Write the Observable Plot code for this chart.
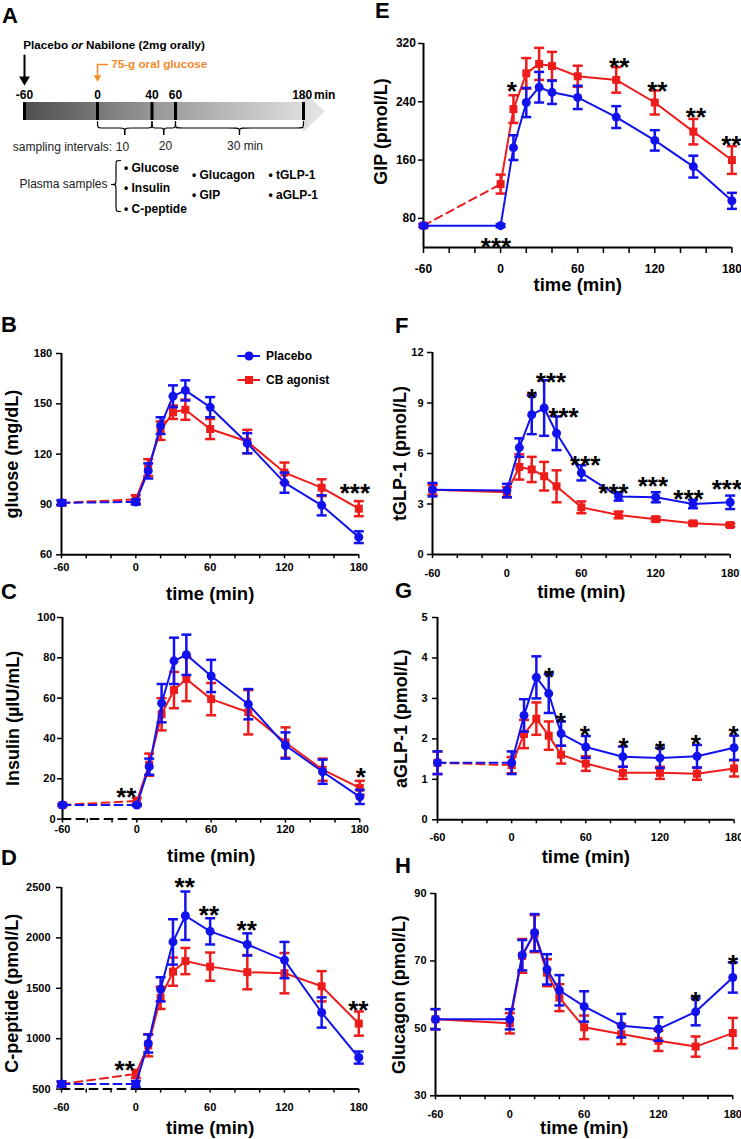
<!DOCTYPE html>
<html><head><meta charset="utf-8">
<script src="https://cdn.jsdelivr.net/npm/d3@7"></script>
<script src="https://cdn.jsdelivr.net/npm/@observablehq/plot@0.6"></script>
<style>
body{margin:0;background:#fff;}
#root{position:relative;width:741px;height:1139px;overflow:hidden;font-family:"Liberation Sans",Arial,sans-serif;color:#000;}
.panel{position:absolute;}
.letter{position:absolute;font-size:22px;font-weight:bold;line-height:22px;}
.leg{position:absolute;font-size:12px;font-weight:bold;line-height:14px;display:flex;align-items:center;}
</style></head><body><div id="root"></div>
<script>
// ---------------- DATA ----------------
const time = [-60, 0, 10, 20, 30, 40, 60, 90, 120, 150, 180];
const xTicks = [-60, -40, -20, 0, 20, 40, 60, 80, 100, 120, 140, 160, 180];
const seriesNames = ["Placebo", "CB agonist"];

// B glucose
const glucosePlacebo = [91, 91.5, 110, 137, 154.5, 158, 148, 126.5, 103, 89.5, 70.5];
const glucosePlaceboErr = [1.5, 1.5, 4.5, 5, 6.5, 6, 6, 6, 6, 6, 3.5];
const glucoseAgonist = [91, 93, 112, 134, 145, 146.5, 135, 127.5, 109, 100, 87.5];
const glucoseAgonistErr = [1.5, 2.5, 5, 5.5, 4, 6, 6, 7, 6, 5, 4.5];
// C insulin
const insulinPlacebo = [7, 7, 26, 57.5, 78.5, 81.5, 71, 57, 36.5, 23.5, 11];
const insulinPlaceboErr = [0.5, 0.5, 4, 9.5, 11.5, 10, 8, 7.5, 6.5, 6, 3.5];
const insulinAgonist = [7, 9, 27, 52, 64, 69.5, 59.5, 53, 38, 24.5, 15.5];
const insulinAgonistErr = [0.5, 1.5, 5.5, 8, 9, 11, 8, 11, 7.5, 5.5, 3.5];
// D C-peptide
const cpepPlacebo = [550, 550, 952, 1490, 1960, 2220, 2065, 1935, 1780, 1260, 813];
const cpepPlaceboErr = [25, 30, 90, 120, 225, 240, 130, 110, 180, 150, 60];
const cpepAgonist = [550, 650, 935, 1405, 1665, 1770, 1715, 1660, 1650, 1520, 1150];
const cpepAgonistErr = [25, 40, 110, 110, 140, 130, 140, 170, 200, 150, 120];
// E GIP
const gipPlacebo = [70, 70, 177, 239, 260, 253, 246, 219, 187, 151, 104];
const gipPlaceboErr = [2, 2, 17, 20, 21, 16, 16, 15, 14, 15, 11];
const gipAgonist = [70, 127, 230, 279, 292, 289, 275, 270, 239, 199, 160];
const gipAgonistErr = [2, 13, 19, 21, 22, 19.5, 14.5, 17.5, 16.5, 17.5, 19];
// F tGLP-1
const tglpPlacebo = [3.85, 3.8, 6.35, 8.3, 8.7, 7.2, 4.85, 3.45, 3.4, 3.0, 3.1];
const tglpPlaceboErr = [0.4, 0.4, 0.55, 1.15, 1.65, 1.0, 0.45, 0.25, 0.3, 0.25, 0.4];
const tglpAgonist = [3.85, 3.7, 5.2, 5.05, 4.65, 4.05, 2.8, 2.35, 2.1, 1.85, 1.75];
const tglpAgonistErr = [0.3, 0.3, 0.75, 0.75, 0.85, 0.95, 0.35, 0.2, 0.12, 0.1, 0.1];
// G aGLP-1
const aglpPlacebo = [1.41, 1.41, 2.58, 3.52, 3.12, 2.13, 1.8, 1.56, 1.53, 1.57, 1.78];
const aglpPlaceboErr = [0.28, 0.28, 0.4, 0.52, 0.48, 0.3, 0.27, 0.25, 0.25, 0.28, 0.3];
const aglpAgonist = [1.41, 1.35, 2.12, 2.5, 2.08, 1.61, 1.39, 1.16, 1.16, 1.14, 1.27];
const aglpAgonistErr = [0.28, 0.2, 0.35, 0.4, 0.35, 0.22, 0.18, 0.15, 0.15, 0.15, 0.2];
// H glucagon
const glucagonPlacebo = [52.7, 52.7, 71.7, 78.4, 67.5, 61.3, 56.5, 50.8, 49.8, 54.9, 65.1];
const glucagonPlaceboErr = [3, 3, 4.5, 5.5, 4.5, 4.5, 4.5, 3.5, 3.5, 4, 4.5];
const glucagonAgonist = [52.7, 51.5, 71.5, 78.1, 66.5, 59.1, 50.3, 48.3, 46.3, 44.6, 48.6];
const glucagonAgonistErr = [3, 3, 5, 5.5, 4, 4, 3.5, 3, 3, 3, 4.5];

// significance stars: [time, value, label]
const starsB = [[176.8, 100.4, "***"]];
const starsC = [[-8.5, 14, "**"], [180.8, 24, "*"]];
const starsD = [[-9, 748, "**"], [39.4, 2566, "**"], [59, 2286, "**"], [89.5, 2137, "**"], [179.6, 1343, "**"]];
const starsE = [[8.8, 264, "*"], [-3.6, 49.4, "***"], [92.3, 296, "**"], [122, 264, "**"], [152, 227.7, "**"], [179.5, 188.8, "**"]];
const starsF = [[20.1, 9.66, "*"], [35.5, 10.65, "***"], [45.6, 8.53, "***"], [63.1, 5.7, "***"], [85.9, 4.01, "***"], [117.7, 4.45, "***"], [146.4, 3.66, "***"], [177.3, 4.25, "***"]];
const starsG = [[30.3, 3.68, "*"], [39.8, 2.57, "*"], [59.2, 2.24, "*"], [90.5, 1.95, "*"], [120.1, 1.89, "*"], [149, 2.03, "*"], [179.5, 2.24, "*"]];
const starsH = [[149.9, 60, "*"], [180.3, 71, "*"]];

// Panel A schematic text
const timelineLabels = ["-60", "0", "40", "60", "180"];
const intervalLabels = ["10", "20", "30 min"];
const sampleGroups = [["Glucose", "Insulin", "C-peptide"], ["Glucagon", "GIP"], ["tGLP-1", "aGLP-1"]];

// ---------------- STYLE / LAYOUT ----------------
const BLUE = "#1212ee", RED = "#ee1b1b", ORANGE = "#f28a2a";
const FONT = "Liberation Sans, Arial, sans-serif";
const root = document.getElementById("root");
const capSymbol = {draw(ctx, size){ const r = Math.sqrt(size/Math.PI); ctx.moveTo(-r,0); ctx.lineTo(r,0); }};

function place(el, left, top){ el.classList.add("panel"); el.style.left = left+"px"; el.style.top = top+"px"; root.appendChild(el); }

function seriesMarks(rows, color, symbol, dashed){
  const m = [];
  if (dashed) {
    m.push(Plot.line(rows.slice(0,2), {x:"t", y:"v", stroke:color, strokeWidth:2, strokeDasharray:"8,5"}));
    m.push(Plot.line(rows.slice(1), {x:"t", y:"v", stroke:color, strokeWidth:2}));
  } else {
    m.push(Plot.line(rows, {x:"t", y:"v", stroke:color, strokeWidth:2}));
  }
  m.push(Plot.ruleX(rows, {x:"t", y1:d=>d.v-d.e, y2:d=>d.v+d.e, stroke:color, strokeWidth:2.5}));
  m.push(Plot.dot(rows, {x:"t", y:d=>d.v+d.e, symbol:capSymbol, r:5, stroke:color, strokeWidth:2.5, fill:"none"}));
  m.push(Plot.dot(rows, {x:"t", y:d=>d.v-d.e, symbol:capSymbol, r:5, stroke:color, strokeWidth:2.5, fill:"none"}));
  m.push(Plot.dot(rows, {x:"t", y:"v", symbol, r:4.5, fill:color, stroke:"none"}));
  return m;
}

function panel(c){
  const ml = 75, mr = 22, mt = 45, mb = 55;
  const w = (c.R - c.L) + ml + mr, h = (c.Bt - c.T) + mt + mb;
  const rowsP = time.map((t,i)=>({t, v:c.pv[i], e:c.pe[i]}));
  const rowsA = time.map((t,i)=>({t, v:c.av[i], e:c.ae[i]}));
  const y0 = c.ydom[0];
  const fs = c.fs || 11;
  const marks = [
    Plot.axisY(c.yticks, {tickSize:5, tickPadding:c.ytp, fontSize:fs, fontWeight:"bold", strokeWidth:1.5, label:null,
      tickFormat: d => String(d)}),
    Plot.axisX(xTicks, {tickSize:c.xts || 4, tickPadding:c.xtp, fontSize:fs, fontWeight:"bold", strokeWidth:1.5, label:null,
      tickFormat: d => (d % 60 === 0 ? String(d) : "")}),
    Plot.ruleX([-60], {y1:y0, y2:c.ydom[1], strokeWidth:2, stroke:"#000"})
  ];
  if (c.blackDash) {
    marks.push(Plot.ruleY([y0], {x1:0, x2:180, strokeWidth:2, stroke:"#000"}));
    marks.push(Plot.line([{t:-60, v:y0}, {t:0, v:y0}], {x:"t", y:"v", stroke:"#000", strokeWidth:2, strokeDasharray:"8,6"}));
  } else {
    marks.push(Plot.ruleY([y0], {x1:-60, x2:180, strokeWidth:2, stroke:"#000"}));
  }
  marks.push(...seriesMarks(rowsA, RED, "square", c.dashRed));
  marks.push(...seriesMarks(rowsP, BLUE, "circle", c.dashBlue));
  const stars = c.stars.map(([t,v,s])=>({t,v,s}));
  marks.push(Plot.text(stars, {x:"t", y:"v", text:"s", fontSize:26, fontWeight:"bold", dy:7, fill:"#000"}));
  marks.push(Plot.text(["time (min)"], {frameAnchor:"bottom", dy:c.xtdy, textAnchor:"middle", lineAnchor:"middle",
    fontSize:18.5, fontWeight:"bold", fill:"#000"}));
  marks.push(Plot.text([c.ylabel], {frameAnchor:"left", dx:c.yldx, dy:c.yldy || 0, rotate:-90, textAnchor:"middle", lineAnchor:"middle",
    fontSize:18, fontWeight:"bold", fill:"#000"}));
  const svg = Plot.plot({
    width:w, height:h, marginLeft:ml, marginRight:mr, marginTop:mt, marginBottom:mb,
    x:{domain:[-60,180], label:null},
    y:{domain:c.ydom, label:null},
    style:{fontFamily:FONT, fontSize:"11px", color:"#000", background:"transparent", overflow:"visible"},
    marks
  });
  place(svg, c.L - ml, c.T - mt);
}

const panels = [
  {L:61, R:358.3, T:352.7, Bt:554, ydom:[60,180], yticks:[60,90,120,150,180], ylabel:"gluose (mg/dL)",
   pv:glucosePlacebo, pe:glucosePlaceboErr, av:glucoseAgonist, ae:glucoseAgonistErr, dashBlue:true, dashRed:true,
   stars:starsB, ytp:4.3, xtp:4.7, xtdy:39, yldx:-49.5},
  {L:62, R:359.3, T:616.7, Bt:818.3, ydom:[0,100], yticks:[0,20,40,60,80,100], ylabel:"Insulin (\u00b5IU/mL)",
   pv:insulinPlacebo, pe:insulinPlaceboErr, av:insulinAgonist, ae:insulinAgonistErr, dashBlue:true, dashRed:true, blackDash:true,
   stars:starsC, ytp:2, xtp:2.5, xtdy:37, yldx:-49.5},
  {L:61, R:358.3, T:886.7, Bt:1088.3, ydom:[500,2500], yticks:[500,1000,1500,2000,2500], ylabel:"C-peptide (pmol/L)",
   pv:cpepPlacebo, pe:cpepPlaceboErr, av:cpepAgonist, ae:cpepAgonistErr, dashBlue:true, dashRed:true, blackDash:true,
   stars:starsD, ytp:6, xtp:10, xtdy:38.7, yldx:-49, yldy:5},
  {L:423.3, R:731.7, T:42.7, Bt:246.7, ydom:[40,320], yticks:[80,160,240,320], ylabel:"GIP (pmol/L)",
   pv:gipPlacebo, pe:gipPlaceboErr, av:gipAgonist, ae:gipAgonistErr, dashBlue:false, dashRed:true,
   stars:starsE, ytp:2.6, xtp:11, xts:6, fs:12, xtdy:38, yldx:-42, yldy:-14},
  {L:432.3, R:730, T:352.3, Bt:554.3, ydom:[0,12], yticks:[0,3,6,9,12], ylabel:"tGLP-1 (pmol/L)",
   pv:tglpPlacebo, pe:tglpPlaceboErr, av:tglpAgonist, ae:tglpAgonistErr, dashBlue:false, dashRed:false,
   stars:starsF, ytp:4, xtp:10.4, xtdy:37.7, yldx:-32},
  {L:436.7, R:733.3, T:616.7, Bt:819, ydom:[0,5], yticks:[0,1,2,3,4,5], ylabel:"aGLP-1 (pmol/L)",
   pv:aglpPlacebo, pe:aglpPlaceboErr, av:aglpAgonist, ae:aglpAgonistErr, dashBlue:true, dashRed:true,
   stars:starsG, ytp:5, xtp:9.7, xtdy:37.7, yldx:-36},
  {L:435, R:732.3, T:892.7, Bt:1095, ydom:[30,90], yticks:[30,50,70,90], ylabel:"Glucagon (pmol/L)",
   pv:glucagonPlacebo, pe:glucagonPlaceboErr, av:glucagonAgonist, ae:glucagonAgonistErr, dashBlue:false, dashRed:false,
   stars:starsH, ytp:4, xtp:10.3, xtdy:32, yldx:-36.5}
];
panels.forEach(panel);

// ---------------- PANEL A (schematic) ----------------
(function(){
  const W = 370, H = 262;
  const L = {
    stopX:[24, 97, 151.5, 175, 303], barTop:102, barBot:120, stopLabelY:95,
    braces:[[97,151.5],[151.5,175],[175,303]], braceTop:121, braceMid:127.5, braceTip:134,
    intervalX:[122, 165, 244.5], intervalY:[147, 146, 146]
  };
  const arrowShape = [
    {x:24, y1:L.barTop, y2:L.barBot}, {x:303, y1:L.barTop, y2:L.barBot},
    {x:303, y1:91, y2:132}, {x:325, y1:111.5, y2:111.5}
  ];
  // brace geometry
  const braceRows = [];
  L.braces.forEach(([a,b],k)=>{
    const m = (a+b)/2, yt=L.braceTop, ym=L.braceMid, yp=L.braceTip;
    [[a,yt],[a,ym],[a+3,ym],[m-3,ym],[m,ym],[m,yp]].forEach(([x,y])=>braceRows.push({x,y,z:"l"+k}));
    [[m,yp],[m,ym],[m+3,ym],[b-3,ym],[b,ym],[b,yt]].forEach(([x,y])=>braceRows.push({x,y,z:"r"+k}));
  });
  const vb = {xr:120, xm:115.5, xt:111, y1:160, y2:211, yt:184};
  [[vb.xr,vb.y1],[vb.xm,vb.y1],[vb.xm,vb.y1+3],[vb.xm,vb.yt-3],[vb.xm,vb.yt],[vb.xt,vb.yt]].forEach(([x,y])=>braceRows.push({x,y,z:"vu"}));
  [[vb.xt,vb.yt],[vb.xm,vb.yt],[vb.xm,vb.yt+3],[vb.xm,vb.y2-3],[vb.xm,vb.y2],[vb.xr,vb.y2]].forEach(([x,y])=>braceRows.push({x,y,z:"vd"}));

  const stopLabels = timelineLabels.map((s,i)=>({s, x:L.stopX[i] + (i===4 ? -1.3 : 0)}));
  const intervals = intervalLabels.map((s,i)=>({s, x:L.intervalX[i], y:L.intervalY[i]}));
  const groupX = [123.5, 191.5, 268];
  const groupY = [[168, 188, 208.3], [175, 195], [175, 195]];
  const samples = [];
  sampleGroups.forEach((g,gi)=>g.forEach((s,si)=>samples.push({s:"\u2022 "+s, x:groupX[gi], y:groupY[gi][si]})));

  const svg = Plot.plot({
    width:W, height:H, margin:0,
    x:{domain:[0,W], range:[0,W], axis:null},
    y:{domain:[0,H], range:[0,H], axis:null},
    style:{fontFamily:FONT, fontSize:"12px", color:"#000", background:"transparent"},
    marks:[
      Plot.area(arrowShape, {x1:"x", y1:"y1", y2:"y2", fill:"url(#tlgrad)"}),
      Plot.ruleX(L.stopX, {y1:L.barTop, y2:L.barBot, stroke:"#000", strokeWidth:3}),
      Plot.text(stopLabels, {x:"x", y:L.stopLabelY, text:"s", fontSize:12, fontWeight:"bold", fill:"#000"}),
      Plot.text(["min"], {x:313.5, y:L.stopLabelY, textAnchor:"start", fontSize:12, fontWeight:"bold", fill:"#000"}),
      Plot.line(braceRows, {x:"x", y:"y", z:"z", curve:"basis", stroke:"#000", strokeWidth:1.2}),
      Plot.text(["sampling intervals:"], {x:12.3, y:147, textAnchor:"start", fontSize:12, fill:"#222"}),
      Plot.text(intervals, {x:"x", y:"y", text:"s", fontSize:12, fill:"#222"}),
      Plot.text(["Plasma samples"], {x:19, y:183.5, textAnchor:"start", fontSize:12, fill:"#222"}),
      Plot.text(samples, {x:"x", y:"y", text:"s", textAnchor:"start", fontSize:12, fontWeight:"bold", fill:"#000"}),
      // treatment label
      Plot.text(["Placebo"], {x:22.7, y:45, textAnchor:"start", fontSize:11.7, fontWeight:"bold", fill:"#000"}),
      Plot.text(["or"], {x:70.7, y:45, textAnchor:"start", fontSize:11.7, fontWeight:"bold", fontStyle:"italic", fill:"#000"}),
      Plot.text(["Nabilone (2mg orally)"], {x:85.5, y:45, textAnchor:"start", fontSize:11.7, fontWeight:"bold", fill:"#000"}),
      Plot.line([{x:24,y:55},{x:24,y:78}], {x:"x", y:"y", stroke:"#000", strokeWidth:2}),
      Plot.dot([0], {x:24, y:79, symbol:"triangle", rotate:180, r:4, fill:"#000", stroke:"none"}),
      // glucose arrow
      Plot.line([{x:107,y:64},{x:97,y:64},{x:97,y:76}], {x:"x", y:"y", stroke:ORANGE, strokeWidth:1.5}),
      Plot.dot([0], {x:97, y:77, symbol:"triangle", rotate:180, r:2.8, fill:ORANGE, stroke:"none"}),
      Plot.text(["75-g oral glucose"], {x:110.7, y:64, textAnchor:"start", fontSize:11.7, fontWeight:"bold", fill:ORANGE})
    ]
  });
  const ns = "http://www.w3.org/2000/svg";
  const defs = document.createElementNS(ns, "defs");
  const g = document.createElementNS(ns, "linearGradient");
  g.setAttribute("id", "tlgrad"); g.setAttribute("gradientUnits", "userSpaceOnUse");
  g.setAttribute("x1", "24"); g.setAttribute("x2", "325"); g.setAttribute("y1", "0"); g.setAttribute("y2", "0");
  [["0","#4e4e4e"],["0.45","#9a9a9a"],["1","#e6e6e6"]].forEach(([o,col])=>{
    const s = document.createElementNS(ns, "stop"); s.setAttribute("offset", o); s.setAttribute("stop-color", col); g.appendChild(s);
  });
  defs.appendChild(g); svg.insertBefore(defs, svg.firstChild);
  place(svg, 0, 0);
})();

// ---------------- Letters & legend ----------------
const letters = [["A",2,8],["E",375,3],["B",1,317],["C",1,584],["D",1,850],["F",395,318],["G",395,583],["H",395,858]];
letters.forEach(([s,x,capTop])=>{
  const d = document.createElement("div"); d.className = "letter"; d.textContent = s;
  d.style.left = x+"px"; d.style.top = (capTop-3)+"px"; root.appendChild(d);
});
const legendItems = [[seriesNames[0], BLUE, "circle", 356], [seriesNames[1], RED, "square", 379.5]];
legendItems.forEach(([name,col,sym,y])=>{
  const d = document.createElement("div"); d.className = "leg";
  d.style.left = "237px"; d.style.top = (y-7)+"px";
  const mk = sym === "circle" ? `<circle cx="12" cy="7" r="4.5" fill="${col}"/>` : `<rect x="8" y="3" width="8" height="8" fill="${col}"/>`;
  d.innerHTML = `<svg width="24" height="14" style="margin-right:5px"><line x1="0.5" x2="23" y1="7" y2="7" stroke="${col}" stroke-width="2"/>${mk}</svg><span>${name}</span>`;
  root.appendChild(d);
});
</script></body></html>
